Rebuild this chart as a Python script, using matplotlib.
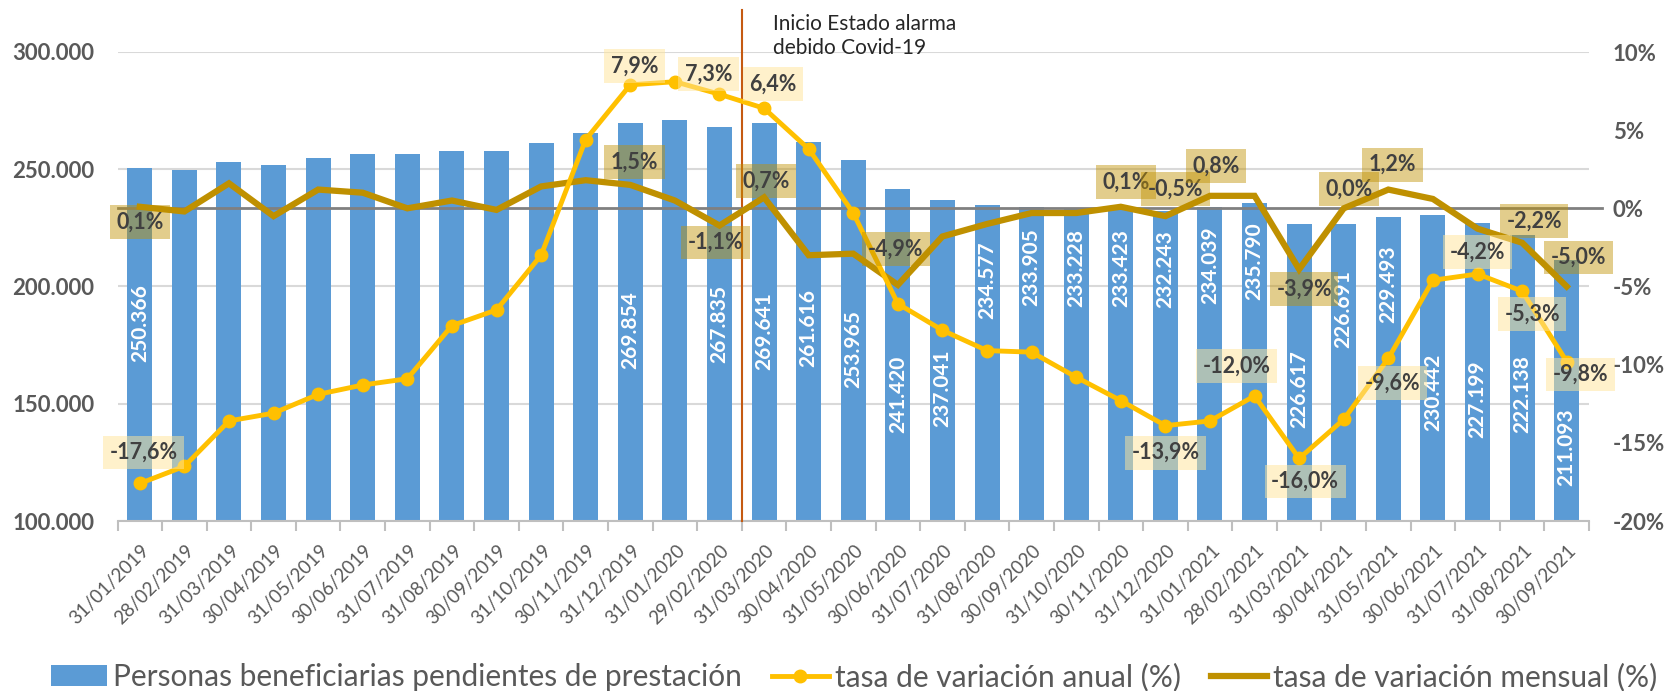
import matplotlib
matplotlib.use("Agg")
import matplotlib.pyplot as plt
import matplotlib.transforms as mtransforms
from matplotlib.lines import Line2D
from matplotlib.patches import Patch
from matplotlib.ticker import FuncFormatter, MultipleLocator

plt.rcParams["font.family"] = ["Lato", "DejaVu Sans"]

# ---- data ----
dates = [
    "31/01/2019", "28/02/2019", "31/03/2019", "30/04/2019", "31/05/2019", "30/06/2019",
    "31/07/2019", "31/08/2019", "30/09/2019", "31/10/2019", "30/11/2019", "31/12/2019",
    "31/01/2020", "29/02/2020", "31/03/2020", "30/04/2020", "31/05/2020", "30/06/2020",
    "31/07/2020", "31/08/2020", "30/09/2020", "31/10/2020", "30/11/2020", "31/12/2020",
    "31/01/2021", "28/02/2021", "31/03/2021", "30/04/2021", "31/05/2021", "30/06/2021",
    "31/07/2021", "31/08/2021", "30/09/2021",
]

pendientes = [
    250366, 249700, 253000, 251600, 255000, 256700, 256700, 257600, 257600, 261000,
    265400, 269854, 270800, 267835, 269641, 261616, 253965, 241420, 237041, 234577,
    233905, 233228, 233423, 232243, 234039, 235790, 226617, 226691, 229493, 230442,
    227199, 222138, 211093,
]

tasa_anual = [
    -17.6, -16.5, -13.6, -13.1, -11.9, -11.3, -10.9, -7.5, -6.5, -3.0,
    4.4, 7.9, 8.1, 7.3, 6.4, 3.8, -0.3, -6.1, -7.8, -9.1,
    -9.2, -10.8, -12.3, -13.9, -13.6, -12.0, -16.0, -13.5, -9.6, -4.6,
    -4.2, -5.3, -9.8,
]

tasa_mensual = [
    0.1, -0.2, 1.6, -0.5, 1.2, 1.0, 0.0, 0.5, -0.1, 1.4,
    1.8, 1.5, 0.5, -1.1, 0.7, -3.0, -2.9, -4.9, -1.8, -1.0,
    -0.3, -0.3, 0.1, -0.5, 0.8, 0.8, -3.9, 0.0, 1.2, 0.6,
    -1.3, -2.2, -5.0,
]

# which points carry a label in the original, and where the label sits
bar_label_idx = [0, 11, 13] + list(range(14, 33))
bar_label_y = [184.3, 181.3, 183.8, 180.9, 182.1, 173.2, 154.0, 156.6, 202.6, 208.3,
               208.0, 208.0, 207.2, 209.0, 210.6, 156.2, 190.2, 201.1, 154.7, 152.1,
               154.0, 131.3]  # thousands, centre of rotated text

# pixel offsets (dx, dy) of each data label from its point
anual_labels = {0: (4, 31), 11: (4, 19), 13: (-11, 20), 14: (9, 24), 23: (0, -27),
                25: (-18, 30), 26: (6, -23), 28: (4, -25), 30: (0, 22), 31: (10, -23),
                32: (14, -13)}
mensual_labels = {0: (0, -15), 11: (4, 23), 13: (-4, -17), 14: (2, 16), 17: (-2, 36),
                  22: (5, 25), 23: (10, 27), 24: (6, 30), 26: (5, -20), 27: (5, 19),
                  28: (4, 25), 31: (12, 22), 32: (12, 29)}

BLUE = "#5B9BD5"
YELLOW = "#FFC000"
GOLD = "#BF9000"
GRAY = "#595959"
DARK = "#404040"

W, H = 1670, 691
fig = plt.figure(figsize=(W / 100, H / 100), dpi=100)
left, right, top, bottom = 117.5, 1589, 52, 521
ax = fig.add_axes([left / W, 1 - bottom / H, (right - left) / W, (bottom - top) / H])

x = list(range(len(dates)))

ax.bar(x, pendientes, width=0.56, color=BLUE, zorder=2)
ax.set_xlim(-0.5, len(dates) - 0.5)
ax.set_ylim(100000, 300000)
ax.yaxis.set_major_locator(MultipleLocator(50000))
ax.yaxis.set_major_formatter(FuncFormatter(lambda v, p: f"{int(v):,}".replace(",", ".")))
ax.grid(axis="y", color="#D9D9D9", linewidth=1.5, zorder=0)
ax.set_axisbelow(True)

for s in ["top", "right", "left"]:
    ax.spines[s].set_visible(False)
ax.spines["bottom"].set_color("#BFBFBF")
ax.spines["bottom"].set_linewidth(1.5)

ax.set_xticks([i - 0.5 for i in range(len(dates) + 1)], minor=False)
ax.set_xticklabels([])
ax.tick_params(axis="x", which="major", length=7, color="#BFBFBF", width=1.5)
ax.set_xticks(x, minor=True)
ax.set_xticklabels(dates, minor=True, rotation=45, ha="right", va="center",
                   rotation_mode="anchor", fontsize=13.5, color=GRAY)
ax.tick_params(axis="x", which="minor", length=0, pad=19)
shift = mtransforms.ScaledTranslation(7 / 100, 0, fig.dpi_scale_trans)
for t in ax.get_xticklabels(minor=True):
    t.set_transform(t.get_transform() + shift)
ax.tick_params(axis="y", length=0, labelsize=16, labelcolor=GRAY, pad=16.5)
for t in ax.get_yticklabels():
    t.set_fontweight("bold")

for i, yc in zip(bar_label_idx, bar_label_y):
    ax.text(i, yc * 1000, f"{pendientes[i]:,}".replace(",", "."), rotation=90,
            ha="center", va="center", color="white", fontsize=15, fontweight="bold",
            zorder=3)

# secondary axis for the rates
ax2 = ax.twinx()
ax2.set_ylim(-20, 10)
ax2.yaxis.set_major_locator(MultipleLocator(5))
ax2.yaxis.set_major_formatter(FuncFormatter(lambda v, p: f"{v:.0f}%"))
for s in ax2.spines.values():
    s.set_visible(False)
ax2.tick_params(axis="y", length=0, labelsize=16, labelcolor=GRAY, pad=17)
for t in ax2.get_yticklabels():
    t.set_fontweight("bold")

ax2.plot([-0.5, len(dates) - 0.2], [0, 0], color="#808080", linewidth=2, zorder=1,
         clip_on=False)
ax2.plot(x, tasa_mensual, color=GOLD, linewidth=4.5, zorder=3, solid_joinstyle="miter")
ax2.plot(x, tasa_anual, color=YELLOW, linewidth=3.5, marker="o", markersize=9, zorder=4)


def pct(v):
    return f"{v:.1f}%".replace(".", ",")


for i, (dx, dy) in anual_labels.items():
    ax2.annotate(pct(tasa_anual[i]), (i, tasa_anual[i]), xytext=(dx, dy),
                 textcoords="offset pixels", ha="center", va="center",
                 fontsize=15.5, fontweight="bold", color=DARK, zorder=6,
                 bbox=dict(boxstyle="square,pad=0.3", fc="#FFE599", ec="none", alpha=0.5))

for i, (dx, dy) in mensual_labels.items():
    ax2.annotate(pct(tasa_mensual[i]), (i, tasa_mensual[i]), xytext=(dx, dy),
                 textcoords="offset pixels", ha="center", va="center",
                 fontsize=15.5, fontweight="bold", color=DARK, zorder=5,
                 bbox=dict(boxstyle="square,pad=0.3", fc=GOLD, ec="none", alpha=0.45))

# start of the state of alarm
ax.axvline(13.5, ymin=0, ymax=(bottom - 10) / (bottom - top), color="#C55A11",
           linewidth=1.5, clip_on=False, zorder=5)
fig.text(773 / W, 1 - 36 / H, "Inicio Estado alarma\ndebido Covid-19", ha="left",
         va="center", fontsize=15, color="#262626", linespacing=1.3)

handles = [
    Patch(facecolor=BLUE, edgecolor="none"),
    Line2D([], [], color=YELLOW, linewidth=3.5, marker="o", markersize=9),
    Line2D([], [], color=GOLD, linewidth=4.5),
]
names = [
    "Personas beneficiarias pendientes de prestación",
    "tasa de variación anual (%)",
    "tasa de variación mensual (%)",
]
fig.legend(handles, names, loc="center", bbox_to_anchor=(854 / W, 1 - 677 / H), ncol=3,
           frameon=False, fontsize=21.5, labelcolor=GRAY, handlelength=1.9,
           handletextpad=0.2, columnspacing=1.0, borderpad=0)

fig.savefig("out.png", dpi=100)
